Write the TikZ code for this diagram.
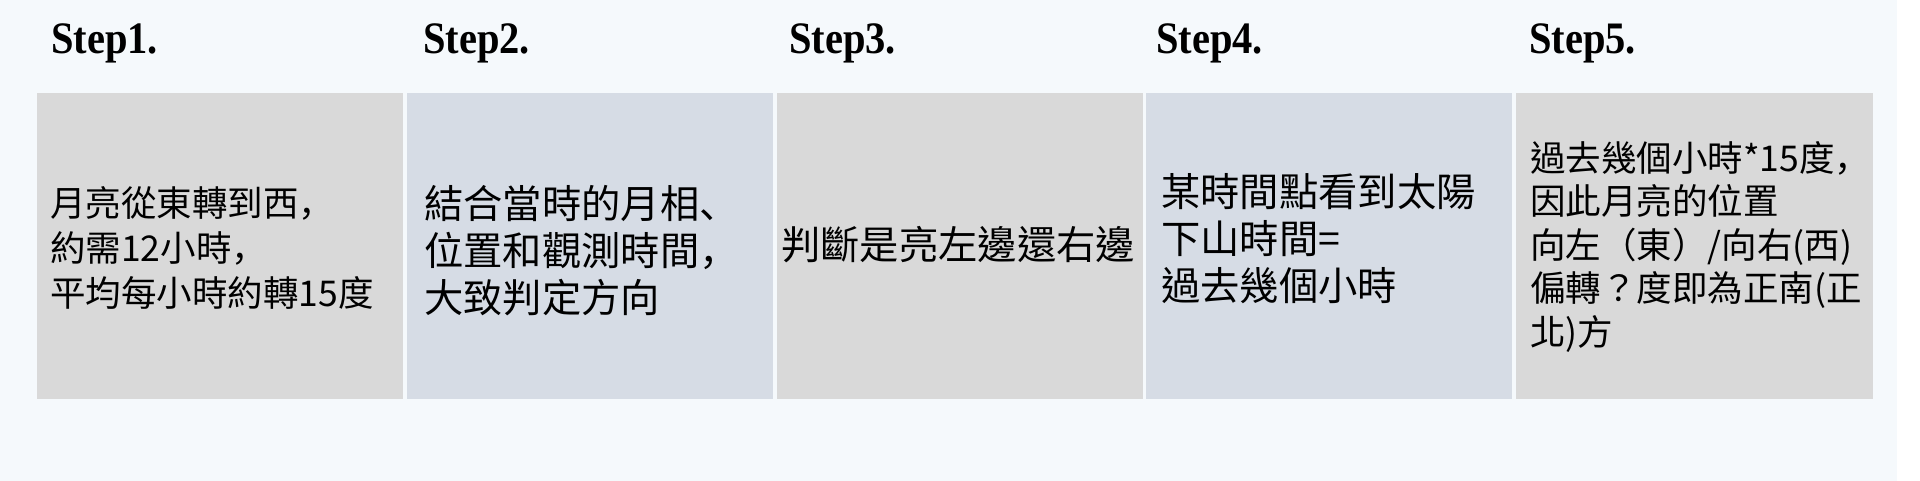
\documentclass[tikz,border=0pt]{standalone}
\usepackage{fontspec}
\newfontfamily\cjk{Noto Sans CJK TC}
\newfontfamily\cjkjp{Noto Sans CJK JP}
\newfontfamily\stepfont[FakeStretch=0.9]{Liberation Serif}
\newcommand\cmm{{\cjkjp ，}}
\newcommand\dun{{\cjkjp 、}}
\definecolor{bgc}{HTML}{F5F9FC}
\definecolor{grayc}{HTML}{D9D9D9}
\definecolor{bluec}{HTML}{D6DCE5}
\tikzset{
  boxbase/.style={draw=none, inner sep=0pt, outer sep=0pt, anchor=north west, minimum height=306bp},
  graybox/.style={boxbase, fill=grayc},
  bluebox/.style={boxbase, fill=bluec},
  steplabel/.style={anchor=base west, inner sep=0pt, font=\stepfont\bfseries\fontsize{45bp}{50bp}\selectfont},
  smalltxt/.style={anchor=west, inner sep=0pt, align=left, font=\cjk\fontsize{35.5bp}{45bp}\selectfont},
  bigtxt/.style={anchor=west, inner sep=0pt, align=left, font=\cjk\fontsize{39.3bp}{47bp}\selectfont}
}
\begin{document}
\begin{tikzpicture}[x=1bp,y=-1bp]
\fill[white] (0,0) rectangle (1920,481);
\fill[bgc] (0,0) rectangle (1897,481);
\useasboundingbox (0,0) rectangle (1920,481);

\node[graybox, minimum width=366bp] (b1) at (37,93) {};
\node[bluebox, minimum width=366bp] (b2) at (407,93) {};
\node[graybox, minimum width=366bp] (b3) at (777,93) {};
\node[bluebox, minimum width=366bp] (b4) at (1146,93) {};
\node[graybox, minimum width=357bp] (b5) at (1516,93) {};

\node[steplabel] (s1) at (51,54) {Step1.};
\node[steplabel] (s2) at (423,54) {Step2.};
\node[steplabel] (s3) at (789,54) {Step3.};
\node[steplabel] (s4) at (1156,54) {Step4.};
\node[steplabel] (s5) at (1529,54) {Step5.};

\node[smalltxt] (t1) at (50,248) {月亮從東轉到西\cmm\\約需12小時\cmm\\平均每小時約轉15度};
\node[bigtxt] (t2) at (424,251) {結合當時的月相\dun\\位置和觀測時間\cmm\\大致判定方向};
\node[bigtxt] (t3) at (781,244.5) {判斷是亮左邊還右邊};
\node[bigtxt] (t4) at (1161,239) {某時間點看到太陽\\下山時間=\\過去幾個小時};
\node[smalltxt, font=\cjk\fontsize{35.5bp}{43.5bp}\selectfont] (t5) at (1530,246.5) {過去幾個小時*15度\cmm\\因此月亮的位置\\向左（東）/向右(西)\\偏轉？度即為正南(正\\北)方};
\end{tikzpicture}
\end{document}
